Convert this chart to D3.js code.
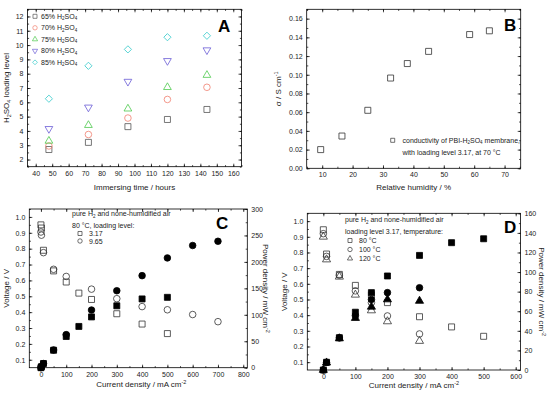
<!DOCTYPE html>
<html>
<head>
<meta charset="utf-8">
<script src="https://cdn.jsdelivr.net/npm/d3@7/dist/d3.min.js"></script>
<style>
  body { margin: 0; background: #fff; }
  text { font-family: "Liberation Sans", Arial, sans-serif; fill: #222; }
  .tick text { font-size: 7px; fill: #222; }
  .ttl { font-size: 8px; }
  .leg { font-size: 7px; fill: #222; }
  .big { font-size: 17px; font-weight: bold; fill: #000; }
</style>
</head>
<body>
<svg id="chart" width="550" height="394"></svg>
<script>
// ---- panel A: acid loading vs immersing time
const immerseHours = [48, 72, 96, 120, 144];
const acidNames = ["65%", "70%", "75%", "80%", "85%"];
const load65 = [2.7, 3.2, 4.3, 4.8, 5.5];
const load70 = [2.95, 3.75, 4.9, 6.2, 7.05];
const load75 = [3.3, 4.4, 5.55, 7.05, 7.9];
const load80 = [4.15, 5.65, 7.45, 8.9, 9.65];
const load85 = [6.25, 8.55, 9.7, 10.55, 10.65];
const acidColors = ["#555555", "#f07f6f", "#4cc94c", "#6a5cd6", "#3ccccc"];
const acidSymbols = ["square", "circle", "triangle", "triangleDown", "diamond"];

// ---- panel B: conductivity vs RH
const humidity = [9.5, 16.5, 25, 32.5, 38, 45, 58.5, 65];
const conductivity = [0.020, 0.0345, 0.062, 0.0965, 0.112, 0.125, 0.143, 0.147];

// ---- panel C: polarisation, two loading levels at 80 C
const currC317 = [0, 2, 10, 50, 100, 150, 200, 300, 400, 500];
const voltC317 = [0.95, 0.93, 0.79, 0.66, 0.59, 0.52, 0.48, 0.39, 0.325, 0.265];
const powC317 = [0, 1.9, 7.9, 33, 59, 78, 96, 117, 130, 133];
const currC965 = [0, 2, 10, 50, 100, 200, 300, 400, 500, 600, 700];
const voltC965 = [0.905, 0.885, 0.775, 0.67, 0.625, 0.545, 0.485, 0.435, 0.415, 0.385, 0.34];
const powC965 = [0, 1.8, 7.8, 33.5, 62.5, 109, 145.5, 174, 207.5, 231, 239];

// ---- panel D: polarisation, three temperatures
const currD80 = [0, 10, 50, 100, 150, 200, 300, 400, 500];
const voltD80 = [0.945, 0.79, 0.66, 0.59, 0.53, 0.48, 0.39, 0.325, 0.265];
const powD80 = [0, 7.9, 33, 59, 79, 96, 117, 130, 134];
const currD100 = [0, 10, 50, 100, 150, 200, 300];
const voltD100 = [0.92, 0.775, 0.655, 0.555, 0.48, 0.395, 0.28];
const powD100 = [0, 7.7, 32.8, 55.5, 72, 79, 84];
const currD120 = [0, 10, 50, 100, 150, 200, 300];
const voltD120 = [0.90, 0.755, 0.645, 0.53, 0.43, 0.36, 0.235];
const powD120 = [0, 7.5, 32.2, 53, 64.5, 72, 70.5];

const svg = d3.select("#chart");

function symbolPath(kind, size) {
  const s = size || 1;
  if (kind === "square") return d3.symbol().type(d3.symbolSquare).size(36 * s)();
  if (kind === "circle") return d3.symbol().type(d3.symbolCircle).size(34 * s)();
  if (kind === "triangle") return d3.symbol().type(d3.symbolTriangle).size(26 * s)();
  if (kind === "triangleDown") return d3.symbol().type(d3.symbolTriangle).size(26 * s)();
  if (kind === "diamond") return d3.symbol().type(d3.symbolSquare).size(26 * s)();
}
function symbolRotate(kind) {
  if (kind === "triangleDown") return 180;
  if (kind === "diamond") return 45;
  return 0;
}

function drawMarkers(g, xs, ys, x, y, kind, color, filled, size) {
  g.selectAll(null)
    .data(xs.map((d, i) => [d, ys[i]]))
    .join("path")
    .attr("d", symbolPath(kind, size))
    .attr("transform", d => `translate(${x(d[0])},${y(d[1])}) rotate(${symbolRotate(kind)})`)
    .attr("fill", filled ? color : "none")
    .attr("stroke", color)
    .attr("stroke-width", 0.8);
}

function axisPair(g, axisFn, scale, major, minor, fmt, translate, showLabels) {
  g.append("g")
    .attr("transform", translate)
    .call(axisFn(scale).tickValues(minor).tickSize(-1.6).tickFormat(""))
    .call(a => a.select(".domain").remove());
  const ax = g.append("g")
    .attr("transform", translate)
    .call(axisFn(scale).tickValues(major).tickSize(-3).tickPadding(4)
      .tickFormat(showLabels ? fmt : ""))
    .call(a => a.select(".domain").remove());
  ax.selectAll("line").attr("stroke", "#000").attr("stroke-width", 0.7);
  g.selectAll("line").attr("stroke", "#000").attr("stroke-width", 0.7);
  return ax;
}

function makePanel(box, xDom, yDom) {
  const x = d3.scaleLinear().domain(xDom).range([box.left, box.right]);
  const y = d3.scaleLinear().domain(yDom).range([box.bottom, box.top]);
  const g = svg.append("g");
  g.append("rect")
    .attr("x", box.left).attr("y", box.top)
    .attr("width", box.right - box.left).attr("height", box.bottom - box.top)
    .attr("fill", "none").attr("stroke", "#000").attr("stroke-width", 0.8);
  return { g, x, y, box };
}

function range(a, b, step) {
  const out = [];
  for (let v = a; v <= b + step / 1000; v += step) out.push(+v.toFixed(6));
  return out;
}

// ================= Panel A =================
{
  const p = makePanel({ left: 27.5, right: 241.5, top: 9.3, bottom: 166.7 }, [35, 165], [1.5, 12.5]);
  const { g, x, y, box } = p;
  axisPair(g, d3.axisBottom, x, range(40, 160, 10), range(35, 165, 5), d3.format("d"), `translate(0,${box.bottom})`, true);
  axisPair(g, d3.axisTop, x, range(40, 160, 10), range(35, 165, 5), d3.format("d"), `translate(0,${box.top})`, false);
  axisPair(g, d3.axisLeft, y, range(2, 12, 1), range(1.5, 12.5, 0.5), d3.format("d"), `translate(${box.left},0)`, true);
  axisPair(g, d3.axisRight, y, range(2, 12, 1), range(1.5, 12.5, 0.5), d3.format("d"), `translate(${box.right},0)`, false);

  const series = [load65, load70, load75, load80, load85];
  series.forEach((vals, i) => drawMarkers(g, immerseHours, vals, x, y, acidSymbols[i], acidColors[i], false, 1));

  const legRows = [16.3, 27.8, 39.3, 50.8, 62.3];
  acidNames.forEach((name, i) => {
    g.append("path")
      .attr("d", symbolPath(acidSymbols[i], 0.45))
      .attr("transform", `translate(35,${legRows[i]}) rotate(${symbolRotate(acidSymbols[i])})`)
      .attr("fill", "none").attr("stroke", acidColors[i]).attr("stroke-width", 0.7);
    const t = g.append("text").attr("class", "leg").attr("fill", "#222").attr("x", 41).attr("y", legRows[i] + 2.5);
    t.append("tspan").text(name + " H");
    t.append("tspan").attr("dy", 1.5).attr("font-size", 4.5).text("2");
    t.append("tspan").attr("dy", -1.5).text("SO");
    t.append("tspan").attr("dy", 1.5).attr("font-size", 4.5).text("4");
  });

  g.append("text").attr("class", "big").attr("x", 218).attr("y", 32).text("A");

  g.append("text").attr("class", "ttl").attr("text-anchor", "middle")
    .attr("x", (box.left + box.right) / 2).attr("y", 190).text("Immersing time / hours");
  const yl = g.append("text").attr("class", "ttl").attr("text-anchor", "middle")
    .attr("transform", `translate(9,${(box.top + box.bottom) / 2}) rotate(-90)`);
  yl.append("tspan").text("H");
  yl.append("tspan").attr("dy", 2).attr("font-size", 5.5).text("2");
  yl.append("tspan").attr("dy", -2).text("SO");
  yl.append("tspan").attr("dy", 2).attr("font-size", 5.5).text("4");
  yl.append("tspan").attr("dy", -2).text(" loading level");
}

// ================= Panel B =================
{
  const p = makePanel({ left: 306.7, right: 520.7, top: 9.3, bottom: 168.3 }, [4.9, 75.3], [0, 0.17]);
  const { g, x, y, box } = p;
  axisPair(g, d3.axisBottom, x, range(10, 70, 10), range(5, 75, 5), d3.format("d"), `translate(0,${box.bottom})`, true);
  axisPair(g, d3.axisTop, x, range(10, 70, 10), range(5, 75, 5), d3.format("d"), `translate(0,${box.top})`, false);
  axisPair(g, d3.axisLeft, y, range(0, 0.16, 0.02), range(0, 0.17, 0.01), d3.format(".2f"), `translate(${box.left},0)`, true);
  axisPair(g, d3.axisRight, y, range(0, 0.16, 0.02), range(0, 0.17, 0.01), d3.format(".2f"), `translate(${box.right},0)`, false);

  drawMarkers(g, humidity, conductivity, x, y, "square", "#333", false, 1);

  g.append("path").attr("d", symbolPath("square", 0.45))
    .attr("transform", "translate(392.7,140.3)")
    .attr("fill", "none").attr("stroke", "#333").attr("stroke-width", 0.7);
  const t1 = g.append("text").attr("class", "leg").attr("fill", "#222").attr("x", 402.5).attr("y", 142.8);
  t1.append("tspan").text("conductivity of PBI-H");
  t1.append("tspan").attr("dy", 1.5).attr("font-size", 4.5).text("2");
  t1.append("tspan").attr("dy", -1.5).text("SO");
  t1.append("tspan").attr("dy", 1.5).attr("font-size", 4.5).text("4");
  t1.append("tspan").attr("dy", -1.5).text(" membrane,");
  g.append("text").attr("class", "leg").attr("fill", "#222").attr("x", 402.5).attr("y", 154.8)
    .text("with loading level 3.17, at 70 °C");

  g.append("text").attr("class", "big").attr("x", 504).attr("y", 31).text("B");

  g.append("text").attr("class", "ttl").attr("text-anchor", "middle")
    .attr("x", (box.left + box.right) / 2).attr("y", 190).text("Relative humidity / %");
  const yl = g.append("text").attr("class", "ttl").attr("text-anchor", "middle")
    .attr("transform", `translate(281,${(box.top + box.bottom) / 2}) rotate(-90)`);
  yl.append("tspan").text("σ / S cm");
  yl.append("tspan").attr("dy", -3).attr("font-size", 5.5).text("-1");
}

function rightTitle(g, xPos, yMid) {
  const t = g.append("text").attr("class", "ttl").attr("text-anchor", "middle")
    .attr("transform", `translate(${xPos},${yMid}) rotate(90)`);
  t.append("tspan").text("Power density / mW cm");
  t.append("tspan").attr("dy", -3).attr("font-size", 5.5).text("-2");
}
function currentTitle(g, xMid, yPos) {
  const t = g.append("text").attr("class", "ttl").attr("text-anchor", "middle")
    .attr("x", xMid).attr("y", yPos);
  t.append("tspan").text("Current density / mA cm");
  t.append("tspan").attr("dy", -3).attr("font-size", 5.5).text("-2");
}
function h2Line(g, xPos, yPos) {
  const t = g.append("text").attr("class", "leg").attr("fill", "#222").attr("x", xPos).attr("y", yPos);
  t.append("tspan").attr("fill", "#222").text("pure H");
  t.append("tspan").attr("fill", "#222").attr("dy", 1.5).attr("font-size", 4.5).text("2");
  t.append("tspan").attr("fill", "#222").attr("dy", -1.5).text(" and none-humidified air");
}

// ================= Panel C =================
{
  const box = { left: 29.3, right: 247.3, top: 209, bottom: 367.7 };
  const p = makePanel(box, [-46, 816], [0.05, 1.05]);
  const { g, x, y } = p;
  const yP = d3.scaleLinear().domain([0, 300]).range([box.bottom, box.top]);
  axisPair(g, d3.axisBottom, x, range(0, 800, 100), range(0, 800, 50), d3.format("d"), `translate(0,${box.bottom})`, true);
  axisPair(g, d3.axisTop, x, range(0, 800, 100), range(0, 800, 50), d3.format("d"), `translate(0,${box.top})`, false);
  axisPair(g, d3.axisLeft, y, range(0.1, 1.0, 0.1), range(0.1, 1.05, 0.05), d3.format(".1f"), `translate(${box.left},0)`, true);
  axisPair(g, d3.axisRight, yP, range(0, 300, 50), range(0, 300, 25), d3.format("d"), `translate(${box.right},0)`, true)
    .selectAll("text").attr("x", 4);

  drawMarkers(g, currC317, voltC317, x, y, "square", "#333", false, 1);
  drawMarkers(g, currC965, voltC965, x, y, "circle", "#333", false, 1);
  drawMarkers(g, currC317, powC317, x, yP, "square", "#000", true, 1);
  drawMarkers(g, currC965, powC965, x, yP, "circle", "#000", true, 1);

  h2Line(g, 72, 216);
  g.append("text").attr("class", "leg").attr("fill", "#222").attr("x", 72).attr("y", 228).text("80 °C, loading level:");
  g.append("path").attr("d", symbolPath("square", 0.45)).attr("transform", "translate(80,233.5)")
    .attr("fill", "none").attr("stroke", "#333").attr("stroke-width", 0.7);
  g.append("text").attr("class", "leg").attr("fill", "#222").attr("x", 89).attr("y", 236).text("3.17");
  g.append("path").attr("d", symbolPath("circle", 0.45)).attr("transform", "translate(80,241)")
    .attr("fill", "none").attr("stroke", "#333").attr("stroke-width", 0.7);
  g.append("text").attr("class", "leg").attr("fill", "#222").attr("x", 89).attr("y", 243.5).text("9.65");

  g.append("text").attr("class", "big").attr("x", 216).attr("y", 229).text("C");

  currentTitle(g, (box.left + box.right) / 2 + 3, 387);
  g.append("text").attr("class", "ttl").attr("text-anchor", "middle")
    .attr("transform", `translate(9,${(box.top + box.bottom) / 2}) rotate(-90)`).text("Voltage / V");
  rightTitle(g, 263, (box.top + box.bottom) / 2);
}

// ================= Panel D =================
{
  const box = { left: 307.3, right: 520.5, top: 213.3, bottom: 370 };
  const p = makePanel(box, [-50, 615], [0.05, 1.05]);
  const { g, x, y } = p;
  const yP = d3.scaleLinear().domain([0, 160]).range([box.bottom, box.top]);
  axisPair(g, d3.axisBottom, x, range(0, 600, 100), range(0, 600, 50), d3.format("d"), `translate(0,${box.bottom})`, true);
  axisPair(g, d3.axisTop, x, range(0, 600, 100), range(0, 600, 50), d3.format("d"), `translate(0,${box.top})`, false);
  axisPair(g, d3.axisLeft, y, range(0.1, 1.0, 0.1), range(0.1, 1.05, 0.05), d3.format(".1f"), `translate(${box.left},0)`, true);
  axisPair(g, d3.axisRight, yP, range(0, 160, 20), range(0, 160, 10), d3.format("d"), `translate(${box.right},0)`, true)
    .selectAll("text").attr("x", 4);

  drawMarkers(g, currD80, voltD80, x, y, "square", "#333", false, 1);
  drawMarkers(g, currD100, voltD100, x, y, "circle", "#333", false, 1);
  drawMarkers(g, currD120, voltD120, x, y, "triangle", "#333", false, 1.1);
  drawMarkers(g, currD80, powD80, x, yP, "square", "#000", true, 1);
  drawMarkers(g, currD100, powD100, x, yP, "circle", "#000", true, 1);
  drawMarkers(g, currD120, powD120, x, yP, "triangle", "#000", true, 1.1);

  h2Line(g, 345, 222);
  g.append("text").attr("class", "leg").attr("fill", "#222").attr("x", 345).attr("y", 233.5).text("loading level 3.17, temperature:");
  const legY = [243, 252, 261];
  const legT = ["80 °C", "100 °C", "120 °C"];
  ["square", "circle", "triangle"].forEach((k, i) => {
    g.append("path").attr("d", symbolPath(k, 0.45)).attr("transform", `translate(350,${legY[i] - 2.5})`)
      .attr("fill", "none").attr("stroke", "#333").attr("stroke-width", 0.7);
    g.append("text").attr("class", "leg").attr("fill", "#222").attr("x", 359).attr("y", legY[i]).text(legT[i]);
  });

  g.append("text").attr("class", "big").attr("x", 504).attr("y", 233).text("D");

  currentTitle(g, (box.left + box.right) / 2, 388);
  g.append("text").attr("class", "ttl").attr("text-anchor", "middle")
    .attr("transform", `translate(287,${(box.top + box.bottom) / 2}) rotate(-90)`).text("Voltage / V");
  rightTitle(g, 539, (box.top + box.bottom) / 2);
}
</script>
</body>
</html>
